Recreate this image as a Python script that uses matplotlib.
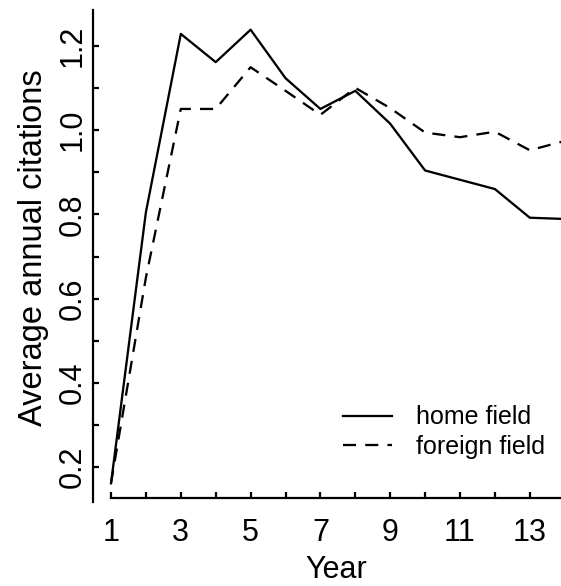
import matplotlib
matplotlib.use('Agg')
import matplotlib.pyplot as plt

plt.rcParams['font.family'] = ['Liberation Sans', 'DejaVu Sans']

# ---- data ----
years = [1, 2, 3, 4, 5, 6, 7, 8, 9, 10, 11, 12, 13, 14]
home_field = [0.162, 0.805, 1.228, 1.161, 1.238, 1.123, 1.050, 1.093, 1.015, 0.904, 0.882, 0.860, 0.792, 0.789]
foreign_field = [0.162, 0.650, 1.050, 1.050, 1.149, 1.093, 1.036, 1.100, 1.052, 0.994, 0.983, 0.996, 0.952, 0.974]

x_ticks = [1, 2, 3, 4, 5, 6, 7, 8, 9, 10, 11, 12, 13]
x_tick_labels = ['1', '', '3', '', '5', '', '7', '', '9', '', '11', '', '13']
y_ticks = [0.2, 0.3, 0.4, 0.5, 0.6, 0.7, 0.8, 0.9, 1.0, 1.1, 1.2]
y_tick_labels = ['0.2', '', '0.4', '', '0.6', '', '0.8', '', '1.0', '', '1.2']

series_labels = ['home field', 'foreign field']
x_label = 'Year'
y_label = 'Average annual citations'

# ---- layout ----
W, H = 561, 586
fig = plt.figure(figsize=(W / 100, H / 100), dpi=100)
left, right, top, bottom = 93.3, 561.0, 10.0, 501.7
ax = fig.add_axes([left / W, 1 - bottom / H, (right - left) / W, (bottom - top) / H])

lw = 1.65
ax.plot(years, home_field, color='black', lw=lw, label=series_labels[0])
ax.plot(years, foreign_field, color='black', lw=lw, linestyle=(0, (5.7, 4.0)),
        label=series_labels[1])

ax.set_xlim(0.4928, 13.894)
ax.set_ylim(0.1184, 1.2847)

for s in ['top', 'right']:
    ax.spines[s].set_visible(False)
ax.spines['bottom'].set_position(('data', 0.126))
ax.spines['bottom'].set_bounds(1, 13.894)
for s in ['left', 'bottom']:
    ax.spines[s].set_linewidth(1.6)

ax.set_xticks(x_ticks)
ax.set_xticklabels(x_tick_labels)
ax.set_yticks(y_ticks)
ax.set_yticklabels(y_tick_labels)

ax.tick_params(direction='in', length=4.3, width=1.6, labelsize=22, colors='black')
ax.tick_params(axis='x', pad=14)
ax.tick_params(axis='y', pad=4, labelrotation=90)
for lbl in ax.get_yticklabels():
    lbl.set_va('center')

ax.set_xlabel(x_label, fontsize=22)
ax.xaxis.set_label_coords(0.5204, -0.1076)
ax.set_ylabel(y_label, fontsize=23.5)
ax.yaxis.set_label_coords(-0.0956, 0.516)

leg = ax.legend(loc='upper left', bbox_to_anchor=(343.3 / W, 1 - 405.5 / H),
                bbox_transform=fig.transFigure, frameon=False, fontsize=18,
                borderpad=0, borderaxespad=0, handlelength=1.96,
                handletextpad=0.93, labelspacing=0.22)

fig.savefig('out.png', dpi=100)
